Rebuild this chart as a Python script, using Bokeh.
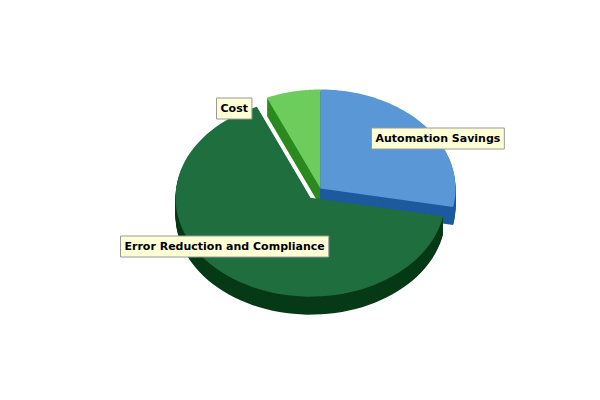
import numpy as np
from bokeh.plotting import figure
from bokeh.models import Range1d, Label
from bokeh.embed import file_html
from bokeh.resources import INLINE

labels = ["Automation Savings", "Error Reduction and Compliance", "Cost"]
values = [28, 65.5, 6.5]
top_colors = ["#5a97d6", "#1f6e3e", "#6ccc5c"]
side_colors = ["#1d5a9e", "#073a16", "#2d8a20"]
explode = [0, 16, 0]
label_pos = [(379, 146), (128, 254), (224, 116)]

cx, cy, rx, ry, depth = 328, 196, 135, 99, 18

p = figure(width=584, height=384, output_backend="svg", toolbar_location=None,
           x_range=Range1d(8, 592), y_range=Range1d(392, 8))
p.axis.visible = False
p.grid.visible = False
p.outline_line_color = None
p.min_border = 0

total = sum(values)
start = np.pi / 2
slices = []
for lab, v, tc, sc, ex in zip(labels, values, top_colors, side_colors, explode):
    end = start - 2 * np.pi * v / total
    mid = (start + end) / 2
    ox, oy = ex * np.cos(mid), -ex * np.sin(mid) * ry / rx
    t = np.linspace(start, end, 80)
    xs = np.concatenate([[cx + ox], cx + ox + rx * np.cos(t)])
    ys = np.concatenate([[cy + oy], cy + oy - ry * np.sin(t)])
    slices.append((-np.sin(mid), xs, ys, tc, sc))
    start = end

# extruded bodies, back to front
for _, xs, ys, tc, sc in sorted(slices, key=lambda s: s[0]):
    for d in range(depth, 0, -1):
        p.patch(xs, ys + d, fill_color=sc, line_color=None)
for _, xs, ys, tc, sc in sorted(slices, key=lambda s: s[0]):
    p.patch(xs, ys, fill_color=tc, line_color=None)

for lab, (lx, ly) in zip(labels, label_pos):
    p.add_layout(Label(x=lx, y=ly, text=lab, text_font="DejaVu Sans", text_font_size="11px",
                       text_font_style="bold", text_color="black", text_baseline="middle",
                       background_fill_color="#ffffd6", border_line_color="#999999",
                       padding=4))

open("out.html", "w").write(file_html(p, INLINE))
